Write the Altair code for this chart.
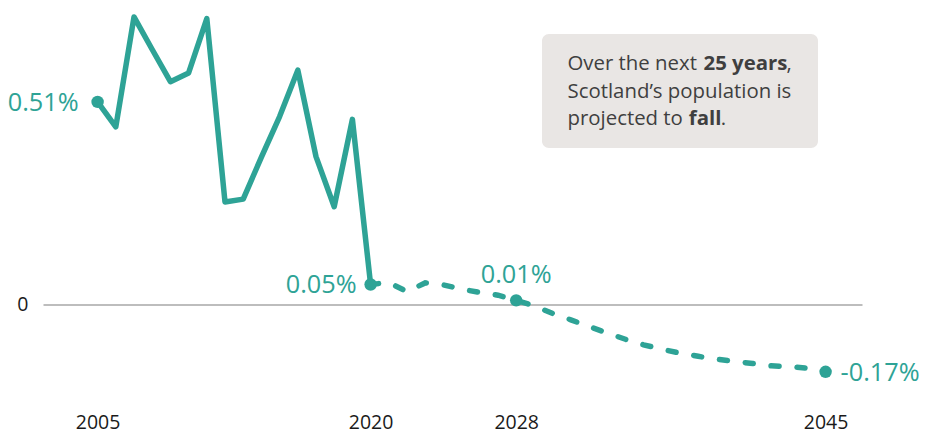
import altair as alt
import pandas as pd

TEAL = "#2ea396"
FONT = "Open Sans"

# Historic annual population growth (%) 2005-2020
hist_years = list(range(2005, 2021))
hist_values = [0.51, 0.447, 0.724, 0.642, 0.561, 0.583, 0.720, 0.258,
               0.265, 0.371, 0.473, 0.590, 0.372, 0.246, 0.466, 0.05]

# Projected annual growth (%) 2020-2045
proj_years = list(range(2020, 2046))
proj_values = [0.05, 0.055, 0.032, 0.054, 0.049, 0.038, 0.030, 0.023, 0.01,
               -0.004, -0.023, -0.039, -0.056, -0.072, -0.088, -0.102, -0.113,
               -0.123, -0.131, -0.138, -0.144, -0.149, -0.155, -0.157, -0.161,
               -0.17]

# Highlighted points and their labels
pt_years = [2005, 2020, 2028, 2045]
pt_values = [0.51, 0.05, 0.01, -0.17]
pt_labels = ["0.51%", "0.05%", "0.01%", "-0.17%"]

tick_years = [2005, 2020, 2028, 2045]

df_hist = pd.DataFrame({"year": hist_years, "value": hist_values})
df_proj = pd.DataFrame({"year": proj_years, "value": proj_values})
df_pts = pd.DataFrame({"year": pt_years, "value": pt_values, "label": pt_labels})
df_one = pd.DataFrame({"a": [0]})

x_enc = alt.X("year:Q",
              scale=alt.Scale(domain=[2002, 2047], nice=False, zero=False),
              axis=alt.Axis(values=tick_years, format="d", grid=False, domain=False,
                            ticks=False, tickSize=0, labelPadding=14, labelFlush=False,
                            labelFontSize=19.5, labelColor="#1a1a1a", labelFont=FONT,
                            title=None))
y_enc = alt.Y("value:Q",
              scale=alt.Scale(domain=[-0.24, 0.74], nice=False, zero=False),
              axis=alt.Axis(values=[0], format="d", grid=True, gridColor="#bdbdbd",
                            gridWidth=2, domain=False, ticks=False, tickSize=0,
                            labelPadding=15, labelFontSize=19.5, labelColor="#1a1a1a",
                            labelFont=FONT, title=None))

hist_line = alt.Chart(df_hist).mark_line(color=TEAL, strokeWidth=5.5, strokeJoin="round",
                                         strokeCap="round").encode(x=x_enc, y=y_enc)
proj_line = alt.Chart(df_proj).mark_line(color=TEAL, strokeWidth=5.5, strokeDash=[8, 18],
                                         strokeCap="round").encode(x="year:Q", y="value:Q")
points = alt.Chart(df_pts).mark_circle(color=TEAL, size=155, opacity=1).encode(
    x="year:Q", y="value:Q")

def label_layer(lbl, **kw):
    return alt.Chart(df_pts).transform_filter(alt.datum.label == lbl).mark_text(
        color=TEAL, font=FONT, fontSize=25.3, **kw).encode(
        x="year:Q", y="value:Q", text="label:N")

lab1 = label_layer("0.51%", align="right", baseline="middle", dx=-19, dy=1)
lab2 = label_layer("0.05%", align="right", baseline="middle", dx=-14, dy=1)
lab3 = label_layer("0.01%", align="center", baseline="alphabetic", dy=-17)
lab4 = label_layer("-0.17%", align="left", baseline="middle", dx=15, dy=1)

box = alt.Chart(df_one).mark_rect(color="#e9e6e4", cornerRadius=7).encode(
    x=alt.value(499), x2=alt.value(775), y=alt.value(23.5), y2=alt.value(137.5))

def box_text(txt, xp, yp, bold=False):
    return alt.Chart(df_one).mark_text(
        text=txt, align="left", baseline="alphabetic", font=FONT, fontSize=20.4,
        fontWeight="bold" if bold else "normal", color="#3f3f3f").encode(
        x=alt.value(xp), y=alt.value(yp))

texts = [
    box_text("Over the next", 524.5, 59.4),
    box_text("25 years", 660.5, 59.4, bold=True),
    box_text(",", 743.5, 59.4),
    box_text("Scotland\u2019s population is", 524.5, 87.7),
    box_text("projected to", 524.5, 114.4),
    box_text("fall", 645.8, 114.4, bold=True),
    box_text(".", 677.8, 114.4),
]

chart = alt.layer(box, *texts, hist_line, proj_line, points, lab1, lab2, lab3, lab4).properties(
    width=819, height=389,
    padding={"left": 35, "top": 2.6, "right": 60, "bottom": 38},
    autosize=alt.AutoSizeParams(type="none"),
    background="white",
).configure_view(stroke=None)

chart.save("out.html", embed_options={"renderer": "svg", "actions": False})
